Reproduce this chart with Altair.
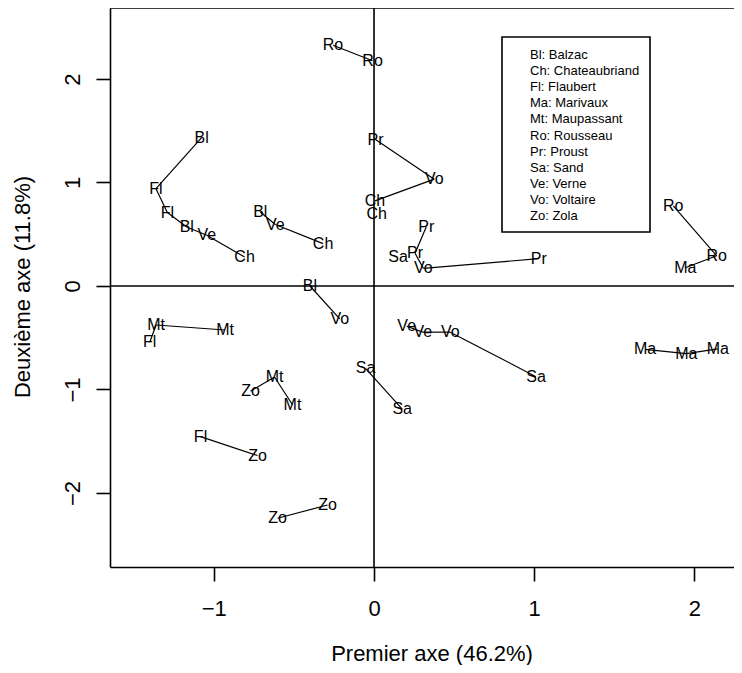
import altair as alt
import pandas as pd

FONT = "Liberation Sans"

# Point labels and coordinates (first and second principal axes)
labels = ["Ro", "Ro", "Bl", "Fl", "Fl", "Bl", "Ve", "Ch", "Bl", "Ve", "Ch",
          "Pr", "Vo", "Ch", "Ch", "Pr", "Sa", "Pr", "Vo", "Pr", "Ro", "Ro",
          "Ma", "Bl", "Vo", "Mt", "Mt", "Fl", "Sa", "Sa", "Mt", "Zo", "Mt",
          "Fl", "Zo", "Zo", "Zo", "Ve", "Ve", "Vo", "Sa", "Ma", "Ma", "Ma"]
axis1 = [-0.256, -0.009, -1.076, -1.361, -1.290, -1.169, -1.044, -0.808, -0.710, -0.616, -0.318,
         0.009, 0.376, 0.006, 0.017, 0.326, 0.150, 0.256, 0.308, 1.028, 1.868, 2.139,
         1.943, -0.400, -0.214, -1.360, -0.930, -1.400, -0.053, 0.176, -0.621, -0.771, -0.509,
         -1.083, -0.727, -0.290, -0.602, 0.204, 0.304, 0.476, 1.011, 1.692, 1.949, 2.146]
axis2 = [2.326, 2.176, 1.433, 0.940, 0.710, 0.570, 0.490, 0.280, 0.715, 0.594, 0.409,
         1.415, 1.032, 0.823, 0.698, 0.570, 0.280, 0.316, 0.171, 0.264, 0.775, 0.292,
         0.176, 0.000, -0.317, -0.377, -0.425, -0.543, -0.795, -1.190, -0.879, -1.016, -1.147,
         -1.456, -1.638, -2.116, -2.244, -0.389, -0.446, -0.446, -0.876, -0.612, -0.654, -0.607]

# Segments joining points (indices into the arrays above)
edges = [(0, 1), (2, 3), (3, 4), (4, 5), (5, 6), (6, 7), (8, 9), (9, 10),
         (11, 12), (13, 12), (15, 17), (17, 18), (18, 19), (20, 21), (22, 21),
         (23, 24), (25, 26), (25, 27), (28, 29), (31, 30), (30, 32), (33, 34),
         (35, 36), (37, 38), (38, 39), (39, 40), (41, 42), (42, 43)]

legend_entries = ["Bl: Balzac", "Ch: Chateaubriand", "Fl: Flaubert", "Ma: Marivaux",
                  "Mt: Maupassant", "Ro: Rousseau", "Pr: Proust", "Sa: Sand",
                  "Ve: Verne", "Vo: Voltaire", "Zo: Zola"]

x_ticks = [-1, 0, 1, 2]
y_ticks = [-2, -1, 0, 1, 2]
x_domain = [-1.648, 2.247]
y_domain = [-2.715, 2.686]

W, H = 624, 559

pts = pd.DataFrame({"lab": labels, "x": axis1, "y": axis2})
segs = pd.DataFrame({
    "x": [axis1[i] for i, j in edges],
    "y": [axis2[i] for i, j in edges],
    "x2": [axis1[j] for i, j in edges],
    "y2": [axis2[j] for i, j in edges],
})
one = pd.DataFrame({"k": [0]})
leg = pd.DataFrame({"t": ["\n".join(legend_entries)]})

xscale = alt.Scale(domain=x_domain, nice=False, zero=False)
yscale = alt.Scale(domain=y_domain, nice=False, zero=False)

xaxis = alt.Axis(values=x_ticks, format="d", title="Premier axe (46.2%)", grid=False,
                 domainColor="black", domainWidth=1.6, tickColor="black", tickWidth=1.6,
                 tickSize=14, labelFont=FONT, labelFontSize=22, labelColor="black",
                 labelPadding=17, labelFlush=False, titleFont=FONT, titleFontSize=22,
                 titleFontWeight="normal", titleColor="black", titleX=321.5, titleY=93,
                 titleAlign="center", titleBaseline="alphabetic")
yaxis = alt.Axis(values=y_ticks, format="d", title="Deuxième axe (11.8%)", grid=False,
                 domainColor="black", domainWidth=1.6, tickColor="black", tickWidth=1.6,
                 tickSize=14, labelFont=FONT, labelFontSize=22, labelColor="black",
                 labelAngle=270, labelAlign="center", labelBaseline="bottom",
                 labelPadding=12, labelFlush=False, titleFont=FONT, titleFontSize=22,
                 titleFontWeight="normal", titleColor="black", titleAngle=270,
                 titleX=-76, titleY=278.5, titleAlign="center", titleBaseline="bottom")

base = alt.Chart(pts).mark_point(opacity=0).encode(
    x=alt.X("x:Q", scale=xscale, axis=xaxis),
    y=alt.Y("y:Q", scale=yscale, axis=yaxis),
)

vline = alt.Chart(one).mark_rule(color="black", strokeWidth=1.6).encode(x=alt.datum(0))
hline = alt.Chart(one).mark_rule(color="black", strokeWidth=1.6).encode(y=alt.datum(0))
topline = alt.Chart(one).mark_rule(color="black", strokeWidth=1.6).encode(
    x=alt.value(0), x2=alt.value(W), y=alt.value(0))

seg_layer = alt.Chart(segs).mark_rule(color="black", strokeWidth=1.2).encode(
    x="x:Q", y="y:Q", x2="x2:Q", y2="y2:Q")

txt = alt.Chart(pts).mark_text(font=FONT, fontSize=16, color="black",
                               align="center", baseline="middle").encode(
    x="x:Q", y="y:Q", text="lab:N")

leg_box = alt.Chart(one).mark_rect(fill="white", stroke="black", strokeWidth=1.6).encode(
    x=alt.value(392), x2=alt.value(540), y=alt.value(29), y2=alt.value(224))
leg_txt = alt.Chart(leg).mark_text(font=FONT, fontSize=13, color="black", align="left",
                                   baseline="top", lineBreak="\n", lineHeight=16.1).encode(
    x=alt.value(420), y=alt.value(41), text="t:N")

chart = alt.layer(base, vline, hline, topline, seg_layer, txt, leg_box, leg_txt).properties(
    width=W, height=H,
    autosize=alt.AutoSizeParams(type="none"),
    padding={"left": 102, "top": 0, "right": 0, "bottom": 98},
    background="white",
).configure_view(strokeWidth=0)

chart.save("out.html", embed_options={"renderer": "svg", "actions": False})
